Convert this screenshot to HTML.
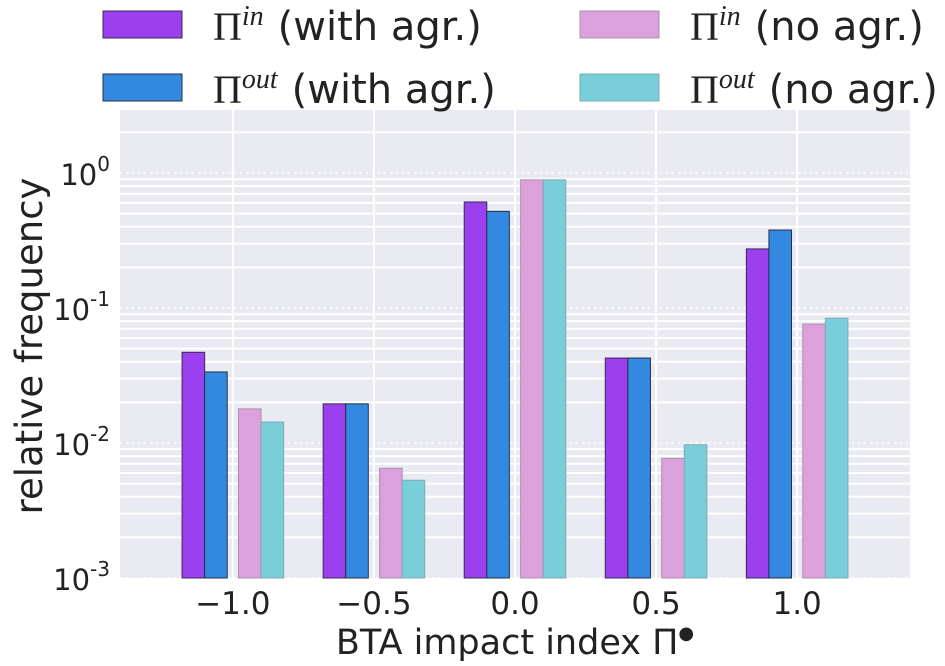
<!DOCTYPE html>
<html><head><meta charset="utf-8"><style>
body{margin:0;background:#fff;}
svg{display:block;font-family:"DejaVu Sans","Liberation Sans",sans-serif;}
</style></head><body>
<svg id="chart" width="945" height="666">
<rect x="120" y="110" width="790" height="468" fill="#eaeaf2"/>
<g id="grid"></g>
<g id="bars"></g>
<g id="ticks" fill="#222"></g>
<text x="515" y="654" font-size="35" text-anchor="middle" fill="#222">BTA impact index Π<tspan font-size="18" dy="-15">●</tspan></text>
<text transform="translate(42,346) rotate(-90)" font-size="37" text-anchor="middle" fill="#222">relative frequency</text>
<g id="legend"></g>
</svg>
<script>
const categories=[-1.0,-0.5,0.0,0.5,1.0];
const inWith=[0.047,0.0195,0.61,0.0426,0.274];
const outWith=[0.0336,0.0195,0.52,0.0426,0.378];
const inNo=[0.0179,0.0065,0.89,0.0077,0.076];
const outNo=[0.0143,0.0053,0.89,0.0097,0.084];
const xTickLabels=["−1.0","−0.5","0.0","0.5","1.0"];
const yDecades=[-3,-2,-1,0];

const NS="http://www.w3.org/2000/svg";
const X0=120,X1=910,Y0=110,Y1=578,xmin=-1.4,xmax=1.4,lmin=-3,lmax=Math.log10(2.93);
const xs=v=>X0+(v-xmin)/(xmax-xmin)*(X1-X0);
const ys=v=>Y1-(Math.log10(v)-lmin)/(lmax-lmin)*(Y1-Y0);
function mk(tag,attrs,parent){const e=document.createElementNS(NS,tag);for(const k in attrs)e.setAttribute(k,attrs[k]);parent.appendChild(e);return e;}
const grid=document.getElementById('grid'),bars=document.getElementById('bars'),ticks=document.getElementById('ticks'),legend=document.getElementById('legend');
for(let d=-3;d<=0;d++){for(let m=2;m<=9;m++){const v=m*Math.pow(10,d);const y=ys(v);if(y<Y0)continue;
 const l=mk('line',{x1:X0,x2:X1,y1:y,y2:y,stroke:'#fff','stroke-width':2},grid);
 
 }}
yDecades.forEach(d=>{const y=ys(Math.pow(10,d));
 const l=mk('line',{x1:X0,x2:X1,y1:y,y2:y,stroke:'#fff','stroke-width':1.5,'stroke-dasharray':'2,4'},grid);
 
 
 const t=mk('text',{x:110,y:y+12,'font-size':29,'text-anchor':'end'},ticks);
 
 
 t.textContent='10';const s=mk('tspan',{'font-size':20,dy:-14},t);s.textContent=String(d);});
categories.forEach((c,i)=>{const x=xs(c);
 const l=mk('line',{x1:x,x2:x,y1:Y0,y2:Y1,stroke:'#fff','stroke-width':2},grid);
 
 
 const t=mk('text',{x:x,y:614,'font-size':31,'text-anchor':'middle'},ticks);
 
 
 t.textContent=xTickLabels[i];});
const series=[[inWith,-0.18,'#9b40ef','#3a2a55','bar-in-with-agr'],[outWith,-0.10,'#3388e0','#23304a','bar-out-with-agr'],[inNo,0.02,'#dca0dd','#aa90aa','bar-in-no-agr'],[outNo,0.10,'#78cfd9','#80a8b0','bar-out-no-agr']];
series.forEach(s=>{s[0].forEach((v,i)=>{const xa=xs(categories[i]+s[1]),xb=xs(categories[i]+s[1]+0.08),y=ys(v);
 const r=mk('rect',{x:xa,y:y,width:xb-xa,height:Y1-y,fill:s[2],stroke:s[3],'stroke-width':1},bars);
 
 });});
const leg=[[103,11,'#9b40ef','#3a2a55','in','(with agr.)','legend-entry-in-with-agr'],[103,74,'#3388e0','#23304a','out','(with agr.)','legend-entry-out-with-agr'],[580,11,'#dca0dd','#aa90aa','in','(no agr.)','legend-entry-in-no-agr'],[580,74,'#78cfd9','#80a8b0','out','(no agr.)','legend-entry-out-no-agr']];
leg.forEach(e=>{const g=mk('g',{},legend);
 
 
 mk('rect',{x:e[0],y:e[1],width:79,height:27,fill:e[2],stroke:e[3],'stroke-width':1},g);
 const t=mk('text',{x:e[0]+110,y:e[1]+29,'font-size':40,fill:'#222'},g);
 const p=mk('tspan',{'font-family':'Liberation Serif, serif'},t);p.textContent='Π';
 const sp=mk('tspan',{'font-size':28,dy:-15,'font-style':'italic','font-family':'Liberation Serif, serif'},t);sp.textContent=e[4];
 const r=mk('tspan',{dy:15,dx:14},t);r.textContent=e[5];});
</script>
</body></html>
